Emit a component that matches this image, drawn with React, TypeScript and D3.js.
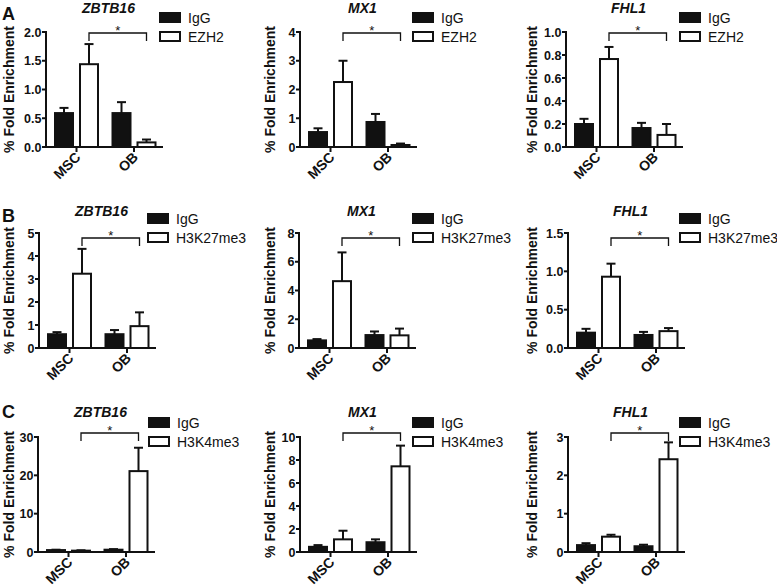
import React from "react";
import * as d3 from "d3";

const genes = ["ZBTB16", "MX1", "FHL1"];
const groups = ["MSC", "OB"];
const antibodies = ["EZH2", "H3K27me3", "H3K4me3"];
const rowLetters = ["A", "B", "C"];
const controlName = "IgG";

// values per gene: [IgG-MSC, Ab-MSC, IgG-OB, Ab-OB]
const ezh2Means = [
  [0.59, 1.44, 0.59, 0.08],
  [0.52, 2.26, 0.87, 0.07],
  [0.2, 0.765, 0.165, 0.105],
];
const ezh2Errors = [
  [0.09, 0.35, 0.19, 0.05],
  [0.13, 0.74, 0.28, 0.05],
  [0.045, 0.105, 0.045, 0.095],
];
const h3k27Means = [
  [0.6, 3.23, 0.6, 0.95],
  [0.53, 4.65, 0.9, 0.88],
  [0.2, 0.93, 0.17, 0.22],
];
const h3k27Errors = [
  [0.09, 1.08, 0.18, 0.6],
  [0.09, 2.0, 0.25, 0.47],
  [0.05, 0.17, 0.04, 0.04],
];
const h3k4Means = [
  [0.5, 0.35, 0.6, 21.1],
  [0.45, 1.1, 0.85, 7.45],
  [0.18, 0.4, 0.15, 2.42],
];
const h3k4Errors = [
  [0.1, 0.1, 0.15, 6.1],
  [0.15, 0.75, 0.25, 1.8],
  [0.05, 0.05, 0.04, 0.44],
];
const ezh2Ticks = [
  [0, 0.5, 1, 1.5, 2],
  [0, 1, 2, 3, 4],
  [0, 0.2, 0.4, 0.6, 0.8, 1],
];
const h3k27Ticks = [
  [0, 1, 2, 3, 4, 5],
  [0, 2, 4, 6, 8],
  [0, 0.5, 1, 1.5],
];
const h3k4Ticks = [
  [0, 10, 20, 30],
  [0, 2, 4, 6, 8, 10],
  [0, 1, 2, 3],
];

const allMeans = [ezh2Means, h3k27Means, h3k4Means];
const allErrors = [ezh2Errors, h3k27Errors, h3k4Errors];
const allTicks = [ezh2Ticks, h3k27Ticks, h3k4Ticks];

// layout
const W = 777;
const H = 587;
const plotTops = [32, 233, 437];
const plotH = 115;
const plotW = 117;
const axisXs = [
  [46, 300, 566],
  [39, 299, 568],
  [38, 300, 568],
];
const legendXs = [
  [160, 413, 680],
  [148, 413, 680],
  [149, 413, 680],
];
const yLabelXs = [14, 275, 537];
const letterYs = [20, 222, 418];
const titleOffsets = [-19, -17, -20];
const bracketOffsets = [1, 5, -4];
const FONT = "'Liberation Sans', Arial, Helvetica, sans-serif";
const INK = "#111";

function Panel({ row, col }: { row: number; col: number }) {
  const means = allMeans[row][col];
  const errs = allErrors[row][col];
  const ticks = allTicks[row][col];
  const ab = antibodies[row];
  const top = plotTops[row];
  const bottom = top + plotH;
  const ax = axisXs[row][col];
  const y = d3.scaleLinear().domain([0, d3.max(ticks) as number]).range([bottom, top]);
  const x = d3.scalePoint<string>().domain(groups).range([ax + 30.5, ax + 88]);
  const inner = d3
    .scaleBand<string>()
    .domain([controlName, ab])
    .range([-21.5, 21.5])
    .paddingInner(0.28);
  const bw = inner.bandwidth();
  const fmt = ticks.some((t) => !Number.isInteger(t)) ? d3.format(".1f") : d3.format("d");
  const series = [controlName, ab];
  const bars = groups.flatMap((g, gi) =>
    series.map((s, si) => ({
      g,
      s,
      v: means[gi * 2 + si],
      e: errs[gi * 2 + si],
      x0: (x(g) as number) + (inner(s) as number),
      filled: si === 0,
    }))
  );
  const b1 = (x(groups[0]) as number) + (inner(ab) as number) + bw / 2;
  const b2 = (x(groups[1]) as number) + (inner(ab) as number) + bw / 2;
  const by = top + bracketOffsets[row];
  const lx = legendXs[row][col];
  return (
    <g fontFamily={FONT}>
      <text
        x={ax + plotW / 2 + 4}
        y={top + titleOffsets[row]}
        textAnchor="middle"
        fontSize={14}
        fontWeight="bold"
        fontStyle="italic"
        fill={INK}
      >
        {genes[col]}
      </text>
      <text
        transform={`translate(${yLabelXs[col]},${(top + bottom) / 2}) rotate(-90)`}
        textAnchor="middle"
        fontSize={14}
        fontWeight="bold"
        fill={INK}
      >
        % Fold Enrichment
      </text>
      {bars.map((b, i) => {
        const yt = y(b.v);
        const ye = y(b.v + b.e);
        const cx = b.x0 + bw / 2;
        return (
          <g key={i}>
            <line x1={cx} x2={cx} y1={yt} y2={ye} stroke={INK} strokeWidth={2} />
            <line x1={cx - 4.5} x2={cx + 4.5} y1={ye} y2={ye} stroke={INK} strokeWidth={2} />
            <rect
              x={b.x0}
              y={yt}
              width={bw}
              height={bottom - yt}
              fill={b.filled ? INK : "#fff"}
              stroke={INK}
              strokeWidth={2}
            />
          </g>
        );
      })}
      <line x1={ax} x2={ax} y1={top - 1} y2={bottom + 1} stroke={INK} strokeWidth={2} />
      {ticks.map((t) => (
        <g key={t}>
          <line x1={ax - 4} x2={ax} y1={y(t)} y2={y(t)} stroke={INK} strokeWidth={2} />
          <text
            x={ax - 4.5}
            y={y(t) + 4.5}
            textAnchor="end"
            fontSize={12.5}
            fontWeight="bold"
            fill={INK}
          >
            {fmt(t)}
          </text>
        </g>
      ))}
      <line x1={ax - 1} x2={ax + plotW} y1={bottom} y2={bottom} stroke={INK} strokeWidth={2} />
      {groups.map((g) => (
        <g key={g}>
          <line
            x1={x(g)}
            x2={x(g)}
            y1={bottom}
            y2={bottom + 5}
            stroke={INK}
            strokeWidth={2}
          />
          <text
            transform={`translate(${(x(g) as number) + 5},${bottom + 11}) rotate(-45)`}
            textAnchor="end"
            fontSize={14}
            fontWeight="bold"
            fill={INK}
          >
            {g}
          </text>
        </g>
      ))}
      <path
        d={`M${b1},${by + 8}V${by}H${b2}V${by + 8}`}
        fill="none"
        stroke={INK}
        strokeWidth={1.3}
      />
      <text x={(b1 + b2) / 2} y={by + 1.5} textAnchor="middle" fontSize={13} fill={INK}>
        *
      </text>
      {series.map((s, si) => {
        const ly = top - 19 + si * 19;
        return (
          <g key={s}>
            <rect
              x={lx}
              y={ly}
              width={20}
              height={9}
              fill={si === 0 ? INK : "#fff"}
              stroke={INK}
              strokeWidth={2}
            />
            <text x={lx + 28} y={ly + 10} fontSize={14} fill={INK}>
              {s}
            </text>
          </g>
        );
      })}
    </g>
  );
}

export default function App() {
  return (
    <svg
      width={W}
      height={H}
      viewBox={`0 0 ${W} ${H}`}
      style={{ position: "absolute", left: 0, top: 0, background: "#fff" }}
    >
      <rect width={W} height={H} fill="#fff" />
      {rowLetters.map((l, r) => (
        <text
          key={l}
          x={2}
          y={letterYs[r]}
          fontFamily={FONT}
          fontSize={18}
          fontWeight="bold"
          fill={INK}
        >
          {l}
        </text>
      ))}
      {rowLetters.map((_, r) =>
        genes.map((_, c) => <Panel key={`${r}-${c}`} row={r} col={c} />)
      )}
    </svg>
  );
}
